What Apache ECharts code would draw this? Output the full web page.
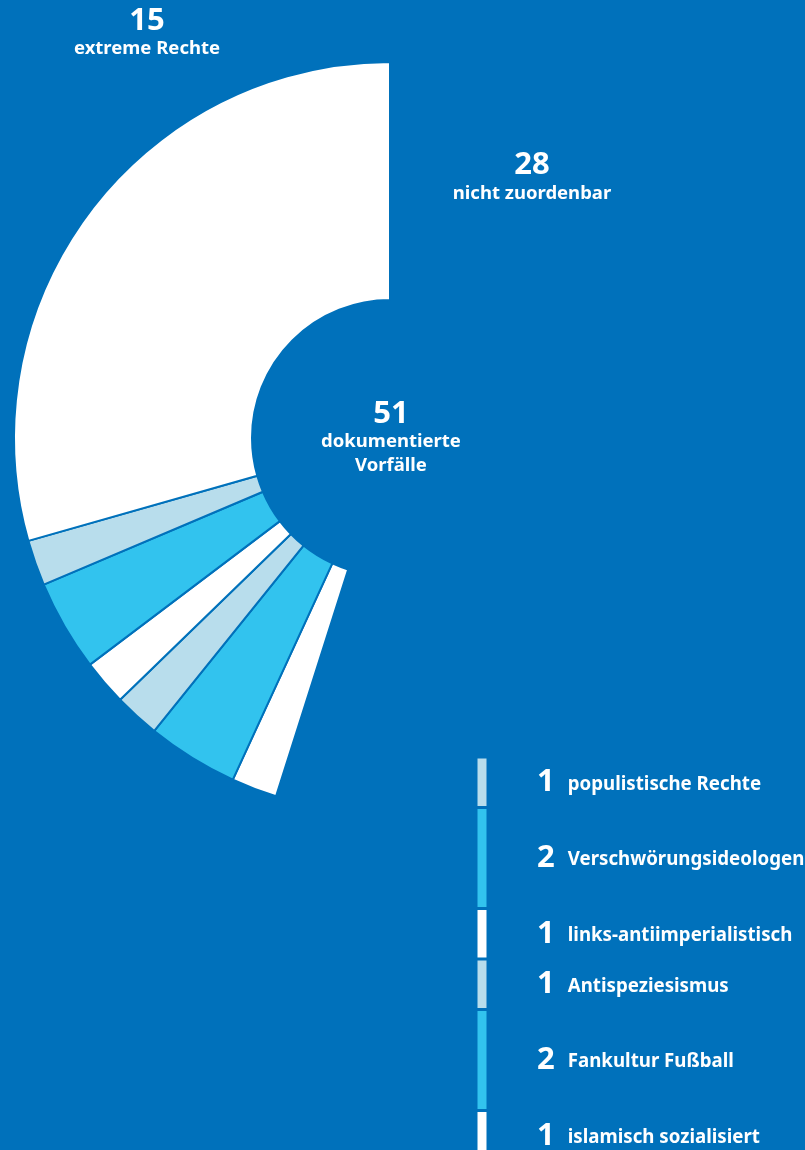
<!DOCTYPE html>
<html lang="de">
<head>
    <meta charset="UTF-8">
    <title>Vorfälle</title>
    <script src="https://cdn.jsdelivr.net/npm/echarts@6/dist/echarts.min.js"></script>
    <style>
        *{
            margin: 0;
            padding: 0;
        }
        html, body{
            width: 100%;
            height: 100%;
            overflow: hidden;
            background: #0071bb;
        }
        .container{
            width: 805px;
            height: 1150px;
        }
    </style>
</head>
<body>
<div class="container"></div>
<script>
    // Reihenfolge im Uhrzeigersinn ab 12 Uhr
    const categories = ['nicht zuordenbar', 'islamisch sozialisiert', 'Fankultur Fußball', 'Antispeziesismus',
        'links-antiimperialistisch', 'Verschwörungsideologen', 'populistische Rechte', 'extreme Rechte'];
    const values = [28, 1, 2, 1, 1, 2, 1, 15];
    const colors = ['transparent', '#ffffff', '#32c3ee', '#b8ddec', '#ffffff', '#32c3ee', '#b8ddec', '#ffffff'];
    const total = 51;

    const bg = '#0071bb';
    const font = '"Noto Sans", sans-serif';

    let container = document.querySelector('.container');
    let mycharts = echarts.init(container);

    let pieData = categories.map((name, i) => ({
        name: name,
        value: values[i],
        itemStyle: i === 0 ? {color: colors[i], borderWidth: 0} : {color: colors[i]}
    }));

    // kleine Gruppen für die Leiste rechts, von oben nach unten
    let legendIdx = [6, 5, 4, 3, 2, 1];
    let barSeries = legendIdx.map(i => ({
        type: 'bar',
        stack: 'leiste',
        z: 5,
        barWidth: '100%',
        silent: true,
        clip: false,
        data: [values[i]],
        itemStyle: {color: colors[i], borderColor: bg, borderWidth: 1.5},
        label: {
            show: true,
            position: 'right',
            distance: 49,
            formatter: '{n|' + values[i] + '}{t|' + categories[i] + '}',
            rich: {
                n: {fontFamily: font, fontWeight: 'bold', fontSize: 31, color: '#fff'},
                t: {fontFamily: font, fontWeight: 'bold', fontSize: 18.7, color: '#fff', padding: [4, 0, 0, 13]}
            }
        }
    }));

    function txt(x, y, text, size) {
        return {
            type: 'text', x: x, y: y, silent: true,
            style: {
                text: text, fill: '#fff', align: 'center', verticalAlign: 'middle',
                font: 'bold ' + size + 'px ' + font
            }
        };
    }

    let options = {
        backgroundColor: bg,
        animation: false,
        grid: {left: 476, top: 757, width: 12, height: 404, outerBoundsMode: 'none', containLabel: false},
        xAxis: {type: 'category', data: ['a'], show: false},
        yAxis: {type: 'value', inverse: true, min: 0, max: 8, show: false},
        graphic: [
            txt(147, 21, String(values[7]), 31),
            txt(147, 49, categories[7], 18.5),
            txt(532, 165, String(values[0]), 31),
            txt(532, 194, categories[0], 18.5),
            txt(391, 414, String(total), 31),
            txt(391, 442, 'dokumentierte', 18.5),
            txt(391, 466, 'Vorfälle', 18.5)
        ],
        series: [{
            type: 'pie',
            center: [390, 438],
            radius: [138, 376],
            startAngle: 90,
            clockwise: true,
            silent: true,
            label: {show: false},
            labelLine: {show: false},
            itemStyle: {borderColor: bg, borderWidth: 2},
            data: pieData
        }].concat(barSeries)
    };

    mycharts.setOption(options);
</script>
</body>
</html>
